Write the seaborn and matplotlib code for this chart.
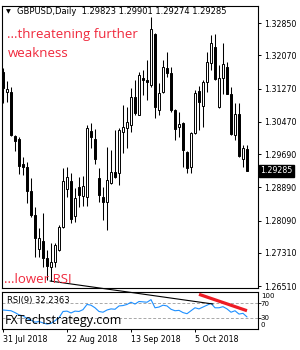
import numpy as np
import matplotlib
matplotlib.use("Agg")
import matplotlib.pyplot as plt
import matplotlib.transforms as mtransforms
import seaborn as sns

# ---------------- data ----------------
opens = [1.31669, 1.31187, 1.31187, 1.30127, 1.30054, 1.29452, 1.29380, 1.28801, 1.28223, 1.27403,
         1.27596, 1.27187, 1.26970, 1.27090, 1.27379, 1.27934, 1.28849, 1.29042, 1.28199, 1.28898,
         1.28681, 1.28657, 1.30247, 1.30054, 1.29115, 1.28657, 1.28536, 1.28994, 1.29259, 1.29235,
         1.30223, 1.30320, 1.30392, 1.31067, 1.30633, 1.31524, 1.31476, 1.31356, 1.32585, 1.30753,
         1.31187, 1.31765, 1.31645, 1.30753, 1.30344, 1.30440, 1.29741, 1.29380, 1.30199, 1.31211,
         1.30850, 1.31428, 1.31886, 1.32272, 1.30826, 1.31524, 1.31790, 1.31139, 1.30151, 1.30657,
         1.29572, 1.29823]
highs = [1.31765, 1.31452, 1.31308, 1.30151, 1.30103, 1.29621, 1.29500, 1.29115, 1.28416, 1.27910,
         1.28271, 1.27379, 1.27548, 1.27548, 1.27982, 1.29356, 1.29380, 1.29235, 1.28874, 1.29139,
         1.29163, 1.30392, 1.30440, 1.30295, 1.29356, 1.28898, 1.29862, 1.29789, 1.30271, 1.30320,
         1.30874, 1.30826, 1.31283, 1.31476, 1.31669, 1.31717, 1.31958, 1.32995, 1.32609, 1.31404,
         1.31958, 1.32151, 1.31790, 1.30770, 1.30705, 1.30464, 1.29760, 1.30223, 1.31235, 1.31332,
         1.31476, 1.32151, 1.32561, 1.32585, 1.31838, 1.32368, 1.31910, 1.31308, 1.30922, 1.30922,
         1.29910, 1.29901]
lows = [1.30922, 1.30946, 1.30127, 1.29765, 1.29211, 1.29187, 1.28512, 1.28175, 1.27211, 1.27211,
        1.26970, 1.26656, 1.26632, 1.26970, 1.27355, 1.27910, 1.28657, 1.28030, 1.28054, 1.28416,
        1.28440, 1.28440, 1.29838, 1.29452, 1.28536, 1.28102, 1.27861, 1.28970, 1.29115, 1.28946,
        1.29717, 1.29838, 1.30223, 1.30633, 1.30633, 1.31115, 1.30994, 1.31308, 1.30561, 1.30633,
        1.31163, 1.31549, 1.30705, 1.30030, 1.30103, 1.29380, 1.29235, 1.29235, 1.30175, 1.30271,
        1.30344, 1.31187, 1.31717, 1.31476, 1.30802, 1.31139, 1.31139, 1.30151, 1.30030, 1.29621,
        1.29380, 1.29274]
closes = [1.31283, 1.31259, 1.30151, 1.30006, 1.29404, 1.29380, 1.28801, 1.28223, 1.27669, 1.27669,
          1.27187, 1.26994, 1.27090, 1.27500, 1.27934, 1.29042, 1.29139, 1.28126, 1.28633, 1.28705,
          1.28922, 1.30320, 1.30103, 1.29572, 1.28705, 1.28536, 1.29066, 1.29259, 1.29139, 1.30271,
          1.30344, 1.30464, 1.31067, 1.30681, 1.31597, 1.31476, 1.31428, 1.32705, 1.30826, 1.31163,
          1.31790, 1.31645, 1.30753, 1.30295, 1.30416, 1.29789, 1.29356, 1.30199, 1.31163, 1.30946,
          1.31428, 1.31910, 1.32368, 1.31500, 1.31524, 1.31862, 1.31139, 1.30175, 1.30657, 1.29645,
          1.29838, 1.29285]
rsi = [51, 50, 49, 44, 38, 35, 28, 24, 18, 20,
       16, 13, 15, 22, 30, 47, 48, 43, 48, 47,
       52, 66, 64, 57, 47, 45, 51, 54, 53, 62,
       63, 66, 72, 67, 74, 73, 72, 79, 57, 59,
       64, 62, 53, 49, 50, 44, 41, 49, 57, 54,
       59, 64, 69, 57, 57, 60, 54, 45, 49, 40,
       42, 32.2363]

price_ticks = [1.32850, 1.32070, 1.31270, 1.30470, 1.29690, 1.28890, 1.28090, 1.27310, 1.26510]
date_labels = ["31 Jul 2018", "22 Aug 2018", "13 Sep 2018", "5 Oct 2018"]
date_idx = [0, 16, 32, 48]
rsi_levels = [70, 30]
rsi_label_vals = ["100", "70", "30", "0"]

# analyst trendlines (bar index, RSI units)
trend_black_x = [11.75, 52.5]
trend_black_y = [129.4, 67.2]
trend_red_x = [49.0, 61.0]
trend_red_y = [93.4, 49.1]

# ---------------- style ----------------
sns.set_style("white")
plt.rcParams["font.family"] = ["DejaVu Sans"]

W, H = 300, 350
def fx(px):
    return px / W
def fy(py):
    return 1 - py / H

RED_TXT = "#F0283C"
idx = np.arange(len(opens))
o = np.array(opens); c = np.array(closes); hi = np.array(highs); lo = np.array(lows)

fig = plt.figure(figsize=(3, 3.5), dpi=100)
fig.patch.set_facecolor("white")
ax = fig.add_axes([fx(2), fy(288), 255.5 / W, 282 / H])
ax2 = fig.add_axes([fx(2), fy(328.5), 255.5 / W, 37 / H])

xl = (-0.25, 63.625)

# ---------------- candles ----------------
ax.vlines(idx, lo, hi, color="black", linewidth=0.75, zorder=2)
body_h = np.maximum(np.abs(c - o), 0.00006)
body_b = np.minimum(o, c)
colors = ["white" if cc >= oo else "black" for oo, cc in zip(o, c)]
ax.bar(idx, body_h, bottom=body_b, width=0.55, color=colors, edgecolor="black",
       linewidth=0.7, zorder=3)

ax.set_xlim(*xl)
ax.set_ylim(1.264635, 1.332597)
ax.set_xticks([])
ax.yaxis.tick_right()
ax.set_yticks(price_ticks)
ax.set_yticklabels([f"{t:.5f}" for t in price_ticks])
ax.tick_params(axis="y", direction="out", length=2.5, width=0.7, pad=2,
               labelsize=5.7, colors="black", right=True, left=False)
for s in ax.spines.values():
    s.set_color("black"); s.set_linewidth(0.8); s.set_visible(True)

# last price box
trans = mtransforms.blended_transform_factory(ax.transAxes, ax.transData)
ax.text(1.012, closes[-1], f"{closes[-1]:.5f}", transform=trans, ha="left", va="center",
        fontsize=5.7, color="white",
        bbox=dict(boxstyle="square,pad=0.2", facecolor="black", edgecolor="black"),
        clip_on=False, zorder=10)

# ---------------- RSI panel ----------------
for lv in rsi_levels:
    ax2.axhline(lv, color="#A8A8A8", linestyle=(0, (3, 2)), linewidth=0.7, zorder=1)
sns.lineplot(x=idx, y=rsi, ax=ax2, color="#1E90FF", linewidth=0.8, legend=False, zorder=3)
ax2.set_xlabel(""); ax2.set_ylabel("")
ax2.set_xlim(*xl)
ax2.set_ylim(1, 101)
ax2.yaxis.tick_right()
ax2.set_yticks(rsi_levels)
ax2.set_yticklabels([])
ax2.tick_params(axis="y", direction="out", length=2.5, width=0.7, right=True, left=False)
ax2.set_xticks(date_idx)
ax2.set_xticklabels(date_labels)
ax2.tick_params(axis="x", direction="out", length=2.5, width=0.7, pad=2.5,
                labelsize=5.7, colors="black", bottom=True)
for lab in ax2.get_xticklabels():
    lab.set_horizontalalignment("left")
for s in ax2.spines.values():
    s.set_color("black"); s.set_linewidth(0.8); s.set_visible(True)

ax2.plot(trend_black_x, trend_black_y, color="black", linewidth=0.8, clip_on=False, zorder=5)
ax2.plot(trend_red_x, trend_red_y, color="#EE1C25", linewidth=2.3, solid_capstyle="butt", zorder=6)

# RSI axis labels (stacked tightly as in the terminal)
for txt, px, py in zip(rsi_label_vals, [261.5, 260.5, 260.5, 260.5], [296.3, 304.2, 317.6, 325.2]):
    fig.text(fx(px), fy(py), txt, fontsize=5, ha="left", va="center", color="black")

# ---------------- texts ----------------
fig.text(fx(6), fy(13.5), "\u25BC", fontsize=4.5, ha="left", va="baseline", color="black")
fig.text(fx(17), fy(14), f"GBPUSD,Daily  {opens[-1]:.5f} {highs[-1]:.5f} {lows[-1]:.5f} {closes[-1]:.5f}",
         fontsize=6, ha="left", va="baseline", color="black")
fig.text(fx(7), fy(38.3), "...threatening further", fontsize=9.5, family="Open Sans",
         ha="left", va="baseline", color=RED_TXT)
fig.text(fx(8), fy(56.7), "weakness", fontsize=9.5, family="Open Sans",
         ha="left", va="baseline", color=RED_TXT)
fig.text(fx(4.5), fy(283.3), "...lower RSI", fontsize=9.5, family="Open Sans",
         ha="left", va="baseline", color=RED_TXT)
fig.text(fx(7), fy(303.3), "RSI(9) 32.2363", fontsize=6, ha="left", va="baseline", color="black")
fig.text(fx(5), fy(324), "FXTechstrategy.com", fontsize=9, family="Open Sans",
         ha="left", va="baseline", color="black", zorder=20)

fig.savefig("out.png", dpi=100, facecolor="white")
